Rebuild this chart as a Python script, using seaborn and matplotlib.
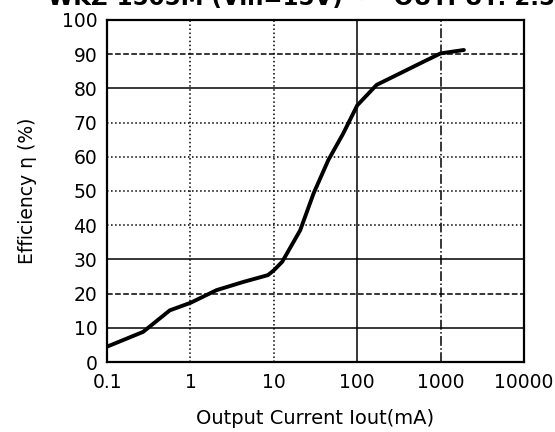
import pandas as pd
import matplotlib
matplotlib.use("Agg")
import matplotlib.pyplot as plt
import seaborn as sns

# Verkningsgrad mot utström
strom_ma = [0.1, 0.27, 0.565, 1.0, 2.05, 4.3, 8.5, 10.0, 12.6, 20.7, 30.0, 45.0, 68.0, 100.0, 171.0, 328.0, 628.0, 1000.0, 1905.0]
verkningsgrad = [4.5, 8.8, 15.1, 17.3, 21.0, 23.4, 25.4, 26.8, 29.3, 38.5, 49.3, 59.0, 66.8, 75.0, 81.0, 84.4, 87.8, 90.2, 91.2]

x_ticks = [0.1, 1, 10, 100, 1000, 10000]
x_labels = ["0.1", "1", "10", "100", "1000", "10000"]
y_ticks = [0, 10, 20, 30, 40, 50, 60, 70, 80, 90, 100]

df = pd.DataFrame({"Iout": strom_ma, "eta": verkningsgrad})

sns.set_style("white")
plt.rcParams["font.family"] = ["DejaVu Sans"]
plt.rcParams["text.color"] = "black"
plt.rcParams["axes.labelcolor"] = "black"
plt.rcParams["xtick.color"] = "black"
plt.rcParams["ytick.color"] = "black"

fig = plt.figure(figsize=(5.55, 4.32), dpi=100)
ax = fig.add_axes([0.193, 0.162, 0.751, 0.792])

# rutnät med olika linjestilar som i originalet
h_stil = {10: "-", 20: "--", 30: "-", 40: ":", 50: ":", 60: ":", 70: ":", 80: "-", 90: "--"}
for y, ls in h_stil.items():
    ax.axhline(y, color="black", lw=1.1, ls=ls, zorder=1)
v_stil = {1: ":", 10: ":", 100: "-", 1000: "-."}
for x, ls in v_stil.items():
    ax.axvline(x, color="black", lw=1.1, ls=ls, zorder=1)

sns.lineplot(data=df, x="Iout", y="eta", ax=ax, color="black", lw=2.8, zorder=3)

ax.set_xscale("log")
ax.set_xlim(0.1, 10000)
ax.set_ylim(0, 100)
ax.set_xticks(x_ticks)
ax.set_xticklabels(x_labels)
ax.set_yticks(y_ticks)
ax.minorticks_off()
ax.tick_params(axis="x", length=0, labelsize=13.5, pad=8)
ax.tick_params(axis="y", length=0, labelsize=13.5, pad=7)

for s in ax.spines.values():
    s.set_color("black")
    s.set_linewidth(1.6)

ax.set_xlabel("Output Current Iout(mA)", fontsize=14, labelpad=12)
ax.set_ylabel("Efficiency η (%)", fontsize=13.5, labelpad=18)

# avskuren rubrik överst
fig.text(0.56, 0.988, "WKZ-1505M (Vin=15V)  ~  OUTPUT: 2.5A", ha="center", va="baseline",
         fontsize=16.5, fontweight="bold")

fig.savefig("out.png", dpi=100)
